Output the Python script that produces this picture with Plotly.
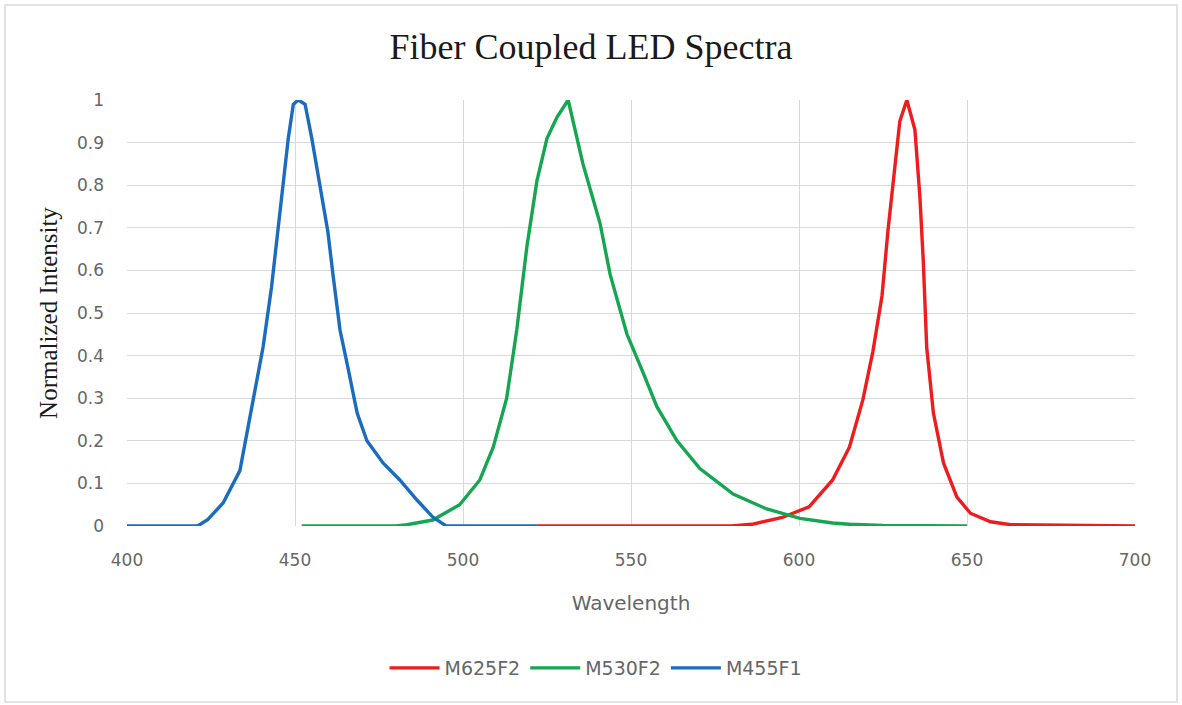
import plotly.graph_objects as go

# ---- data ----
red_name = "M625F2"
red_wl = [522, 580, 586, 595, 603, 610, 615, 619, 622, 624.7, 626.5, 628.6, 630, 632.1,
          634.5, 636, 637, 638, 640, 643, 647, 651, 657, 663, 700]
red_i = [0, 0, 0.004, 0.02, 0.045, 0.108, 0.185, 0.296, 0.41, 0.54, 0.695, 0.85, 0.95, 1.0,
         0.93, 0.77, 0.62, 0.42, 0.265, 0.148, 0.068, 0.03, 0.01, 0.003, 0]

green_name = "M530F2"
green_wl = [452, 480, 483.3, 491, 499, 505, 509, 513, 516, 519, 522, 525, 528, 531.3,
            535.7, 540.8, 543.8, 548.8, 553.6, 557.7, 563.7, 570.5, 580.4, 590.4, 600.3,
            610, 615, 625, 650]
green_i = [0, 0, 0.003, 0.014, 0.05, 0.108, 0.185, 0.30, 0.46, 0.655, 0.81, 0.91, 0.96, 1.0,
           0.85, 0.71, 0.59, 0.45, 0.36, 0.28, 0.20, 0.135, 0.075, 0.04, 0.018,
           0.007, 0.004, 0.001, 0]

blue_name = "M455F1"
blue_wl = [400, 421, 424, 428.6, 433.6, 437.5, 440.5, 443, 445, 446.5, 448, 449.5, 451,
           453, 455, 457.4, 459.8, 461.3, 463.4, 465.8, 468.5, 471.4, 476.2, 481.2, 486.3,
           491, 495, 522]
blue_i = [0, 0, 0.015, 0.054, 0.13, 0.30, 0.42, 0.56, 0.70, 0.81, 0.91, 0.99, 1.0,
          0.99, 0.91, 0.80, 0.69, 0.59, 0.46, 0.37, 0.265, 0.20, 0.148, 0.108, 0.061,
          0.021, 0.0, 0]

x_ticks = [400, 450, 500, 550, 600, 650, 700]
y_ticks = [0, 0.1, 0.2, 0.3, 0.4, 0.5, 0.6, 0.7, 0.8, 0.9, 1]
y_tick_labels = ["0", "0.1", "0.2", "0.3", "0.4", "0.5", "0.6", "0.7", "0.8", "0.9", "1"]

title_text = "Fiber Coupled LED Spectra"
x_title = "Wavelength"
y_title = "Normalized Intensity"

# ---- figure ----
fig = go.Figure()
for name, wl, vals, col in [(red_name, red_wl, red_i, "#ee1c1c"),
                            (green_name, green_wl, green_i, "#16a550"),
                            (blue_name, blue_wl, blue_i, "#1b6cbf")]:
    fig.add_trace(go.Scatter(x=wl, y=vals, mode="lines", name=name,
                             line=dict(color=col, width=3.4)))

W, H = 1182, 705
L, R, T, B = 127, 47, 100, 179
pw, ph = W - L - R, H - T - B

def px_x(p):
    return (p - L) / pw

def px_y(p):
    return (H - B - p) / ph

sans = "DejaVu Sans, Liberation Sans, sans-serif"
serif = "Liberation Serif, Times New Roman, serif"
tickfont = dict(family=sans, size=17, color="#666666")

fig.update_layout(
    width=W, height=H,
    margin=dict(l=L, r=R, t=T, b=B),
    paper_bgcolor="white", plot_bgcolor="white",
    title=dict(text=title_text, x=0.5, xanchor="center", y=1 - 46 / H, yanchor="middle",
               font=dict(family=serif, size=36, color="#1a1a1a")),
    xaxis=dict(range=[400, 700], tickvals=x_ticks, showgrid=True, gridcolor="#d9d9d9",
               gridwidth=1, zeroline=False, showline=False, ticks="", tickfont=tickfont,
               ticklabelstandoff=22,
               title=dict(text=x_title, font=dict(family=sans, size=20, color="#666666"),
                          standoff=26)),
    yaxis=dict(range=[0, 1], tickvals=y_ticks, ticktext=y_tick_labels, showgrid=True,
               gridcolor="#d9d9d9", gridwidth=1, zeroline=False, showline=False, ticks="",
               tickfont=tickfont, ticklabelstandoff=22,
               title=dict(text=y_title, font=dict(family=serif, size=25, color="#1a1a1a"),
                          standoff=12)),
    legend=dict(orientation="h", x=px_x(596), xanchor="center", y=px_y(668), yanchor="middle",
                font=dict(family=sans, size=19, color="#666666"),
                itemwidth=50, tracegroupgap=0),
    showlegend=True,
)

# outer chart frame
fig.add_shape(type="rect", xref="paper", yref="paper",
              x0=px_x(5), x1=px_x(1177), y0=px_y(702), y1=px_y(5),
              line=dict(color="#d9d9d9", width=1.5), fillcolor="rgba(0,0,0,0)", layer="below")

fig.write_html("out.html")
